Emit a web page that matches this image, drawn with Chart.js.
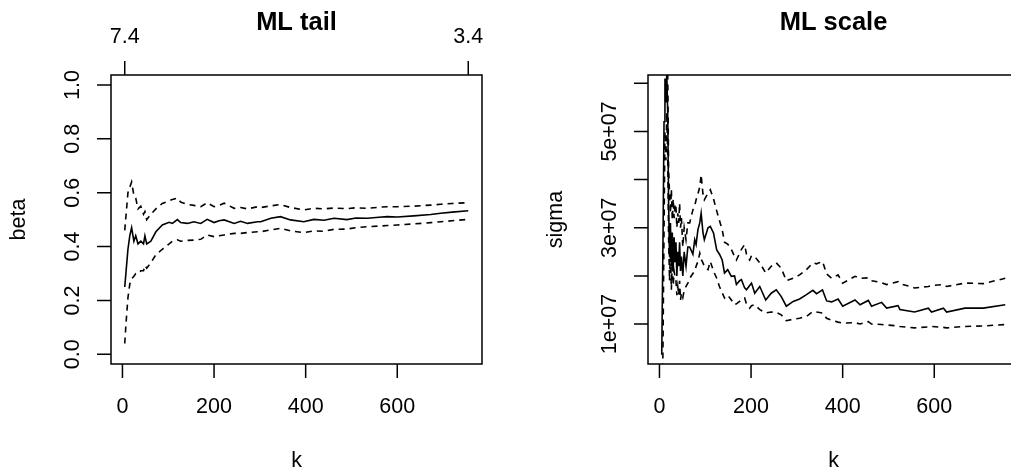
<!DOCTYPE html>
<html>
<head>
<meta charset="utf-8">
<script src="https://cdn.jsdelivr.net/npm/chart.js@4.4.1/dist/chart.umd.min.js"></script>
<style>
  html, body { margin: 0; padding: 0; background: #fff; overflow: hidden; }
  body { width: 1011px; height: 470px; position: relative; }
  canvas { position: absolute; top: 0; }
  #chartTail { left: 0; }
  #chartScale { left: 537px; }
</style>
</head>
<body>
<canvas id="chartTail" width="538" height="470"></canvas>
<canvas id="chartScale" width="538" height="470"></canvas>
<script>
// ML tail (beta) panel
const kTail = [5, 8, 12, 16, 20, 25, 29, 34, 40, 46, 49, 53, 62, 73, 87, 102, 109, 120, 127, 142, 156, 171, 185, 200, 211, 222, 244, 258, 273, 295, 302, 324, 345, 367, 396, 418, 440, 462, 490, 510, 535, 560, 578, 600, 636, 673, 695, 720, 755];
const betaEst = [0.25, 0.31, 0.39, 0.44, 0.47, 0.42, 0.44, 0.41, 0.42, 0.41, 0.44, 0.41, 0.42, 0.455, 0.48, 0.49, 0.486, 0.50, 0.489, 0.486, 0.492, 0.486, 0.501, 0.489, 0.496, 0.499, 0.486, 0.494, 0.486, 0.492, 0.492, 0.505, 0.511, 0.499, 0.492, 0.501, 0.498, 0.505, 0.500, 0.506, 0.505, 0.509, 0.511, 0.510, 0.514, 0.519, 0.524, 0.528, 0.533];
const betaUpper = [0.46, 0.52, 0.60, 0.62, 0.64, 0.59, 0.58, 0.54, 0.55, 0.52, 0.53, 0.50, 0.52, 0.54, 0.56, 0.57, 0.575, 0.58, 0.565, 0.556, 0.553, 0.548, 0.563, 0.548, 0.553, 0.561, 0.542, 0.545, 0.540, 0.548, 0.545, 0.551, 0.556, 0.545, 0.536, 0.542, 0.540, 0.543, 0.541, 0.544, 0.542, 0.546, 0.548, 0.548, 0.550, 0.554, 0.557, 0.560, 0.563];
const betaLower = [0.04, 0.12, 0.21, 0.26, 0.28, 0.29, 0.30, 0.30, 0.31, 0.31, 0.33, 0.32, 0.34, 0.37, 0.39, 0.41, 0.42, 0.425, 0.42, 0.423, 0.424, 0.427, 0.443, 0.437, 0.44, 0.443, 0.449, 0.449, 0.452, 0.455, 0.455, 0.462, 0.468, 0.458, 0.452, 0.458, 0.457, 0.464, 0.465, 0.470, 0.474, 0.476, 0.478, 0.480, 0.484, 0.489, 0.492, 0.496, 0.501];
const betaTicks = [0, 0.2, 0.4, 0.6, 0.8, 1.0];
const betaTickLabels = ['0.0', '0.2', '0.4', '0.6', '0.8', '1.0'];
const topTicksK = [5, 755];
const topTickLabels = ['7.4', '3.4'];

// ML scale (sigma) panel, values in units of 1e7
const SIGMA_UNIT = 1e7;
const kScale = [5, 8, 10, 12, 14, 16, 18, 20, 22, 24, 26, 28, 30, 32, 34, 36, 38, 40, 42, 44, 46, 48, 51, 54, 58, 62, 66, 73, 77, 80, 84, 88, 91, 95, 98, 106, 111, 118, 125, 131, 137, 142, 149, 157, 164, 168, 175, 179, 186, 190, 197, 201, 208, 219, 232, 244, 255, 266, 277, 292, 306, 321, 335, 343, 356, 365, 376, 390, 400, 427, 438, 456, 463, 485, 496, 521, 525, 557, 587, 594, 620, 627, 667, 707, 755];
const sigmaEst = [0.36, 3.0, 5.2, 6.1, 5.6, 6.2, 5.4, 3.5, 2.4, 3.1, 2.2, 2.9, 2.1, 2.8, 2.3, 2.7, 2.0, 2.5, 2.2, 2.7, 2.1, 2.4, 2.0, 2.5, 2.2, 2.6, 2.6, 2.45, 2.75, 2.65, 2.96, 3.1, 3.3, 2.9, 2.75, 3.0, 3.03, 2.89, 2.54, 2.45, 2.33, 2.06, 2.13, 1.99, 2.0, 1.82, 1.9, 1.92, 1.75, 1.71, 1.8, 1.85, 1.64, 1.78, 1.50, 1.64, 1.71, 1.57, 1.37, 1.47, 1.52, 1.61, 1.70, 1.63, 1.71, 1.48, 1.46, 1.52, 1.37, 1.50, 1.40, 1.49, 1.37, 1.45, 1.33, 1.38, 1.30, 1.25, 1.33, 1.25, 1.33, 1.25, 1.33, 1.33, 1.40];
const sigmaUpper = [9.0, 8.0, 7.5, 7.2, 6.8, 7.0, 6.3, 4.2, 3.72, 3.3, 3.8, 3.16, 3.6, 3.2, 3.5, 3.44, 3.0, 3.3, 3.1, 3.51, 3.0, 3.2, 2.6, 3.0, 2.75, 3.1, 3.10, 3.37, 3.45, 3.58, 3.7, 3.85, 4.10, 3.7, 3.58, 3.72, 3.79, 3.6, 3.35, 3.15, 2.96, 2.7, 2.66, 2.55, 2.40, 2.33, 2.47, 2.55, 2.65, 2.45, 2.33, 2.42, 2.40, 2.27, 2.06, 2.20, 2.27, 2.16, 1.90, 1.95, 2.02, 2.13, 2.27, 2.25, 2.30, 2.04, 1.95, 2.02, 1.85, 1.99, 1.95, 1.96, 1.90, 1.86, 1.82, 1.88, 1.84, 1.75, 1.78, 1.80, 1.82, 1.78, 1.85, 1.84, 1.95];
const sigmaLower = [-2.0, 0.8, 3.0, 5.0, 4.4, 5.4, 4.5, 2.8, 1.9, 2.5, 1.71, 2.3, 1.8, 2.1, 1.99, 1.9, 1.6, 1.78, 1.6, 1.9, 1.5, 1.64, 1.55, 1.7, 1.78, 1.85, 1.95, 2.05, 2.1, 2.20, 2.3, 2.47, 2.35, 2.27, 2.2, 2.13, 2.3, 2.1, 1.95, 1.78, 1.65, 1.54, 1.6, 1.5, 1.40, 1.42, 1.47, 1.50, 1.54, 1.42, 1.33, 1.38, 1.40, 1.30, 1.23, 1.25, 1.24, 1.19, 1.07, 1.10, 1.12, 1.16, 1.26, 1.25, 1.23, 1.12, 1.08, 1.04, 1.02, 1.03, 1.00, 1.05, 1.00, 0.99, 0.98, 0.96, 0.95, 0.92, 0.94, 0.95, 0.93, 0.92, 0.95, 0.96, 0.99];
const sigmaTicks = [1e7, 2e7, 3e7, 4e7, 5e7, 6e7];
const sigmaTickLabels = ['1e+07', '', '3e+07', '', '5e+07', ''];

const kTicks = [0, 200, 400, 600];
const kTickLabels = ['0', '200', '400', '600'];

const FONT = '"Liberation Sans", Arial, Helvetica, sans-serif';

// base-graphics style box, axes and labels
const rStyle = {
  id: 'rStyle',
  afterDatasetsDraw(chart, args, o) {
    const { ctx, chartArea: a, scales: { x, y } } = chart;
    ctx.save();
    ctx.strokeStyle = '#000';
    ctx.fillStyle = '#000';
    ctx.lineWidth = 1.5;
    ctx.setLineDash([]);
    ctx.strokeRect(a.left, a.top, a.right - a.left, a.bottom - a.top);

    ctx.font = '21.5px ' + FONT;
    ctx.textAlign = 'center';
    ctx.textBaseline = 'alphabetic';

    // bottom axis
    const xs = o.xTicks.map(v => x.getPixelForValue(v));
    ctx.beginPath();
    xs.forEach(px => { ctx.moveTo(px, a.bottom); ctx.lineTo(px, a.bottom + 14); });
    ctx.stroke();
    xs.forEach((px, i) => ctx.fillText(o.xLabels[i], px, a.bottom + 49));
    ctx.fillText(o.xTitle, (a.left + a.right) / 2, a.bottom + 103);

    // top axis
    if (o.topTicks) {
      const ts = o.topTicks.map(v => x.getPixelForValue(v));
      ctx.beginPath();
      ts.forEach(px => { ctx.moveTo(px, a.top); ctx.lineTo(px, a.top - 14); });
      ctx.stroke();
      ts.forEach((px, i) => ctx.fillText(o.topLabels[i], px, a.top - 32));
    }

    // left axis
    const ys = o.yTicks.map(v => y.getPixelForValue(v));
    ctx.beginPath();
    ys.forEach(py => { ctx.moveTo(a.left, py); ctx.lineTo(a.left - 14, py); });
    ctx.stroke();
    ys.forEach((py, i) => {
      if (!o.yLabels[i]) return;
      ctx.save();
      ctx.translate(a.left - 32.5, py);
      ctx.rotate(-Math.PI / 2);
      ctx.fillText(o.yLabels[i], 0, 0);
      ctx.restore();
    });
    ctx.save();
    ctx.translate(a.left - 86, (a.top + a.bottom) / 2);
    ctx.rotate(-Math.PI / 2);
    ctx.fillText(o.yTitle, 0, 0);
    ctx.restore();

    // main title
    ctx.font = 'bold 25.5px ' + FONT;
    ctx.fillText(o.title, (a.left + a.right) / 2, 30);
    ctx.restore();
  }
};

function series(ks, vals, dashed, unit) {
  return {
    data: ks.map((k, i) => ({ x: k, y: vals[i] * (unit || 1) })),
    borderColor: '#000',
    borderWidth: 1.6,
    borderDash: dashed ? [6, 5] : [],
    pointRadius: 0,
    tension: 0,
    fill: false,
    clip: 0
  };
}

function makeChart(id, datasets, yMin, yMax, axes) {
  return new Chart(document.getElementById(id), {
    type: 'line',
    data: { datasets },
    options: {
      responsive: false,
      animation: false,
      layout: { padding: { left: 111, right: 56, top: 75, bottom: 106 } },
      plugins: { legend: { display: false }, tooltip: { enabled: false }, rStyle: axes },
      scales: {
        x: { type: 'linear', min: -25, max: 785, display: false },
        y: { type: 'linear', min: yMin, max: yMax, display: false }
      }
    },
    plugins: [rStyle]
  });
}

makeChart('chartTail', [
  series(kTail, betaEst, false),
  series(kTail, betaUpper, true),
  series(kTail, betaLower, true)
], -0.036, 1.037, {
  title: 'ML tail', xTitle: 'k', yTitle: 'beta',
  xTicks: kTicks, xLabels: kTickLabels,
  yTicks: betaTicks, yLabels: betaTickLabels,
  topTicks: topTicksK, topLabels: topTickLabels
});

makeChart('chartScale', [
  series(kScale, sigmaEst, false, SIGMA_UNIT),
  series(kScale, sigmaUpper, true, SIGMA_UNIT),
  series(kScale, sigmaLower, true, SIGMA_UNIT)
], 0.17e7, 6.172e7, {
  title: 'ML scale', xTitle: 'k', yTitle: 'sigma',
  xTicks: kTicks, xLabels: kTickLabels,
  yTicks: sigmaTicks, yLabels: sigmaTickLabels
});
</script>
</body>
</html>
